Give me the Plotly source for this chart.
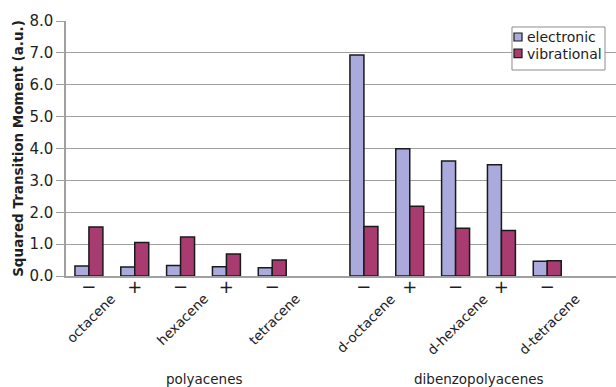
import plotly.graph_objects as go

# Category slots along the x axis (slot 5 is an empty spacer between families)
slots = [0, 1, 2, 3, 4, 6, 7, 8, 9, 10]
signs = ["\u2212", "+", "\u2212", "+", "\u2212", "\u2212", "+", "\u2212", "+", "\u2212"]

electronic = [0.31, 0.28, 0.33, 0.29, 0.26, 6.93, 3.99, 3.61, 3.49, 0.46]
vibrational = [1.54, 1.05, 1.22, 0.69, 0.50, 1.55, 2.19, 1.50, 1.43, 0.48]

molecules = ["octacene", "hexacene", "tetracene", "d-octacene", "d-hexacene", "d-tetracene"]
molecule_slots = [0, 2, 4, 6, 8, 10]

families = ["polyacenes", "dibenzopolyacenes"]
family_centers = [2.5, 8.5]

series_names = ["electronic", "vibrational"]
series_colors = ["#aaaadd", "#a83c70"]

FONT = "DejaVu Sans"
TEXT = "#1e1e1e"
GRID = "#a0a0a0"
EDGE = "#1a1a1a"

fig = go.Figure()
for name, vals, col in zip(series_names, [electronic, vibrational], series_colors):
    fig.add_trace(go.Bar(
        x=slots, y=vals, name=name,
        marker=dict(color=col, line=dict(color=EDGE, width=1.5)),
    ))

annotations = []
for name, s in zip(molecules, molecule_slots):
    annotations.append(dict(
        x=s + 0.05, xref="x", y=0, yref="paper",
        text=name, showarrow=False, textangle=-45,
        xanchor="center", yanchor="top", yshift=-12,
        font=dict(family=FONT, size=13.5, color=TEXT),
    ))
for name, c in zip(families, family_centers):
    annotations.append(dict(
        x=c, xref="x", y=0, yref="paper",
        text=name, showarrow=False,
        xanchor="center", yanchor="middle", yshift=-103,
        font=dict(family=FONT, size=13.5, color=TEXT),
    ))

# Compact boxed key in the upper right corner of the plot area
shapes = [dict(
    type="rect", xref="paper", yref="paper",
    x0=0.8109, x1=0.98, y0=0.8078, y1=0.9765,
    line=dict(color="#8c8c8c", width=1), fillcolor="white", layer="above",
)]
key_rows = [(0.9529, 0.9216, 0.9353), (0.8902, 0.8561, 0.8725)]
for (top, bottom, mid), name, col in zip(key_rows, series_names, series_colors):
    shapes.append(dict(
        type="rect", xref="paper", yref="paper",
        x0=0.8145, x1=0.8291, y0=bottom, y1=top,
        line=dict(color=EDGE, width=1.2), fillcolor=col, layer="above",
    ))
    annotations.append(dict(
        x=0.8345, xref="paper", y=mid, yref="paper",
        text=name, showarrow=False, xanchor="left", yanchor="middle",
        font=dict(family=FONT, size=14, color=TEXT),
    ))

fig.update_layout(
    width=616, height=387,
    margin=dict(l=66, r=0, t=21, b=111),
    paper_bgcolor="white", plot_bgcolor="white",
    barmode="group", bargap=0.39, bargroupgap=0,
    font=dict(family=FONT, color=TEXT),
    showlegend=False,
    annotations=annotations,
    shapes=shapes,
    xaxis=dict(
        range=[-0.5, 11.5],
        tickmode="array", tickvals=slots, ticktext=signs,
        tickfont=dict(family=FONT, size=18, color=TEXT),
        ticks="", ticklabelstandoff=-6,
        showgrid=False, zeroline=False,
        showline=True, linecolor=GRID, linewidth=1.5,
    ),
    yaxis=dict(
        range=[0, 8.0001],
        tickmode="array", tickvals=[0, 1, 2, 3, 4, 5, 6, 7, 8],
        ticktext=["0.0", "1.0", "2.0", "3.0", "4.0", "5.0", "6.0", "7.0", "8.0"],
        tickfont=dict(family=FONT, size=15, color=TEXT),
        ticks="outside", ticklen=8, tickcolor=GRID,
        showgrid=True, gridcolor=GRID, gridwidth=1,
        zeroline=False, showline=True, linecolor=GRID, linewidth=1.5,
        title=dict(
            text="<b>Squared Transition Moment (a.u.)</b>",
            font=dict(family=FONT, size=13.5, color=TEXT), standoff=3,
        ),
    ),
)

fig.write_html("out.html")
